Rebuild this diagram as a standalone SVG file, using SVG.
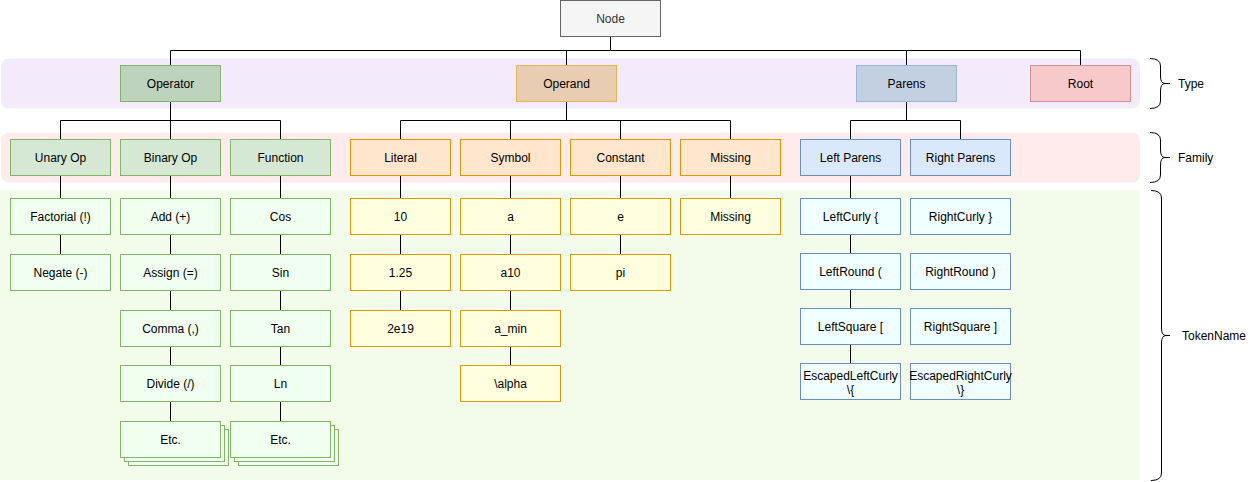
<svg xmlns="http://www.w3.org/2000/svg" width="1251" height="482" viewBox="0 0 1251 482">
<style>
text{font-family:"Liberation Sans",Arial,Helvetica,sans-serif;font-size:12px;fill:#000;text-anchor:middle}
.lbl{text-anchor:start}
.c{fill:none;stroke:#000;stroke-width:1}
.br{fill:none;stroke:#000;stroke-width:1}
.n rect{stroke-width:1}
.node rect{fill:#f5f5f5;stroke:#666}
.tOp rect{fill:#bdd3bd;stroke:#82b366}
.tOd rect{fill:#e8cdb2;stroke:#e0b555}
.tPa rect{fill:#c2d0e2;stroke:#9db4d9}
.tRo rect{fill:#f6caca;stroke:#d49090}
.fG rect{fill:#d5e8d4;stroke:#82b366}
.fO rect{fill:#ffe6cc;stroke:#d79b00}
.fB rect{fill:#dae8fc;stroke:#6c8ebf}
.kG rect{fill:#f0fff0;stroke:#82b366}
.kO rect{fill:#ffffe0;stroke:#d79b00}
.kB rect{fill:#f0ffff;stroke:#6c8ebf}
</style>
<g id="bands">
<rect x="1" y="58.5" width="1139" height="50" rx="8" fill="#f3ebfb"/>
<rect x="1" y="132.5" width="1139" height="50" rx="8" fill="#ffebeb"/>
<rect x="0" y="190" width="1140" height="290" rx="2" fill="#f3fbeb"/>
</g>
<g id="connectors">
<path class="c" d="M610.5,36.5V50.5M170.5,50.5H1080.5M170.5,50.5V65.5M566.5,50.5V65.5M906.5,50.5V65.5M1080.5,50.5V65.5"/>
<path class="c" d="M170.5,101.5V120.5M60.5,120.5H280.5M60.5,120.5V139.5M170.5,120.5V139.5M280.5,120.5V139.5"/>
<path class="c" d="M566.5,101.5V120.5M400.5,120.5H730.5M400.5,120.5V139.5M510.5,120.5V139.5M620.5,120.5V139.5M730.5,120.5V139.5"/>
<path class="c" d="M906.5,101.5V120.5M850.5,120.5H960.5M850.5,120.5V139.5M960.5,120.5V139.5"/>
<path class="c" d="M60.5,175.5V198.5M60.5,234.5V254.5"/>
<path class="c" d="M170.5,175.5V198.5M170.5,234.5V254.5M170.5,290.5V310.5M170.5,346.5V365.5M170.5,401.5V421.5"/>
<path class="c" d="M280.5,175.5V198.5M280.5,234.5V254.5M280.5,290.5V310.5M280.5,346.5V365.5M280.5,401.5V421.5"/>
<path class="c" d="M400.5,175.5V198.5M400.5,234.5V254.5M400.5,290.5V310.5"/>
<path class="c" d="M510.5,175.5V198.5M510.5,234.5V254.5M510.5,290.5V310.5M510.5,346.5V365.5"/>
<path class="c" d="M620.5,175.5V198.5M620.5,234.5V254.5"/>
<path class="c" d="M730.5,175.5V198.5"/>
<path class="c" d="M850.5,175.5V198.5M850.5,234.5V253.5M850.5,289.5V308.5M850.5,344.5V363.5"/>
</g>
<g id="node-root" class="n node"><rect x="560.5" y="0.5" width="100" height="36"/><text x="610.5" y="22.5" style="fill:#333">Node</text></g>
<g id="type-operator" class="n tOp"><rect x="120.5" y="65.5" width="100" height="36"/><text x="170.5" y="87.5">Operator</text></g>
<g id="type-operand" class="n tOd"><rect x="516.5" y="65.5" width="100" height="36"/><text x="566.5" y="87.5">Operand</text></g>
<g id="type-parens" class="n tPa"><rect x="856.5" y="65.5" width="100" height="36"/><text x="906.5" y="87.5">Parens</text></g>
<g id="type-root" class="n tRo"><rect x="1030.5" y="65.5" width="100" height="36"/><text x="1080.5" y="87.5">Root</text></g>
<g id="fam-unary" class="n fG"><rect x="10.5" y="139.5" width="100" height="36"/><text x="60.5" y="161.5">Unary Op</text></g>
<g id="fam-binary" class="n fG"><rect x="120.5" y="139.5" width="100" height="36"/><text x="170.5" y="161.5">Binary Op</text></g>
<g id="fam-function" class="n fG"><rect x="230.5" y="139.5" width="100" height="36"/><text x="280.5" y="161.5">Function</text></g>
<g id="fam-literal" class="n fO"><rect x="350.5" y="139.5" width="100" height="36"/><text x="400.5" y="161.5">Literal</text></g>
<g id="fam-symbol" class="n fO"><rect x="460.5" y="139.5" width="100" height="36"/><text x="510.5" y="161.5">Symbol</text></g>
<g id="fam-constant" class="n fO"><rect x="570.5" y="139.5" width="100" height="36"/><text x="620.5" y="161.5">Constant</text></g>
<g id="fam-missing" class="n fO"><rect x="680.5" y="139.5" width="100" height="36"/><text x="730.5" y="161.5">Missing</text></g>
<g id="fam-leftparens" class="n fB"><rect x="800.5" y="139.5" width="100" height="36"/><text x="850.5" y="161.5">Left Parens</text></g>
<g id="fam-rightparens" class="n fB"><rect x="910.5" y="139.5" width="100" height="36"/><text x="960.5" y="161.5">Right Parens</text></g>
<g id="tok-factorial" class="n kG"><rect x="10.5" y="198.5" width="100" height="36"/><text x="60.5" y="220.5">Factorial (!)</text></g>
<g id="tok-negate" class="n kG"><rect x="10.5" y="254.5" width="100" height="36"/><text x="60.5" y="276.5">Negate (-)</text></g>
<g id="tok-add" class="n kG"><rect x="120.5" y="198.5" width="100" height="36"/><text x="170.5" y="220.5">Add (+)</text></g>
<g id="tok-assign" class="n kG"><rect x="120.5" y="254.5" width="100" height="36"/><text x="170.5" y="276.5">Assign (=)</text></g>
<g id="tok-comma" class="n kG"><rect x="120.5" y="310.5" width="100" height="36"/><text x="170.5" y="332.5">Comma (,)</text></g>
<g id="tok-divide" class="n kG"><rect x="120.5" y="365.5" width="100" height="36"/><text x="170.5" y="387.5">Divide (/)</text></g>
<g id="tok-etc-binary" class="n kG"><rect x="128.5" y="429.5" width="100" height="36"/><rect x="124.5" y="425.5" width="100" height="36"/><rect x="120.5" y="421.5" width="100" height="36"/><text x="170.5" y="443.5">Etc.</text></g>
<g id="tok-cos" class="n kG"><rect x="230.5" y="198.5" width="100" height="36"/><text x="280.5" y="220.5">Cos</text></g>
<g id="tok-sin" class="n kG"><rect x="230.5" y="254.5" width="100" height="36"/><text x="280.5" y="276.5">Sin</text></g>
<g id="tok-tan" class="n kG"><rect x="230.5" y="310.5" width="100" height="36"/><text x="280.5" y="332.5">Tan</text></g>
<g id="tok-ln" class="n kG"><rect x="230.5" y="365.5" width="100" height="36"/><text x="280.5" y="387.5">Ln</text></g>
<g id="tok-etc-function" class="n kG"><rect x="238.5" y="429.5" width="100" height="36"/><rect x="234.5" y="425.5" width="100" height="36"/><rect x="230.5" y="421.5" width="100" height="36"/><text x="280.5" y="443.5">Etc.</text></g>
<g id="tok-10" class="n kO"><rect x="350.5" y="198.5" width="100" height="36"/><text x="400.5" y="220.5">10</text></g>
<g id="tok-125" class="n kO"><rect x="350.5" y="254.5" width="100" height="36"/><text x="400.5" y="276.5">1.25</text></g>
<g id="tok-2e19" class="n kO"><rect x="350.5" y="310.5" width="100" height="36"/><text x="400.5" y="332.5">2e19</text></g>
<g id="tok-a" class="n kO"><rect x="460.5" y="198.5" width="100" height="36"/><text x="510.5" y="220.5">a</text></g>
<g id="tok-a10" class="n kO"><rect x="460.5" y="254.5" width="100" height="36"/><text x="510.5" y="276.5">a10</text></g>
<g id="tok-amin" class="n kO"><rect x="460.5" y="310.5" width="100" height="36"/><text x="510.5" y="332.5">a_min</text></g>
<g id="tok-alpha" class="n kO"><rect x="460.5" y="365.5" width="100" height="36"/><text x="510.5" y="387.5">\alpha</text></g>
<g id="tok-e" class="n kO"><rect x="570.5" y="198.5" width="100" height="36"/><text x="620.5" y="220.5">e</text></g>
<g id="tok-pi" class="n kO"><rect x="570.5" y="254.5" width="100" height="36"/><text x="620.5" y="276.5">pi</text></g>
<g id="tok-missing" class="n kO"><rect x="680.5" y="198.5" width="100" height="36"/><text x="730.5" y="220.5">Missing</text></g>
<g id="tok-leftcurly" class="n kB"><rect x="800.5" y="198.5" width="100" height="36"/><text x="850.5" y="220.5">LeftCurly {</text></g>
<g id="tok-leftround" class="n kB"><rect x="800.5" y="253.5" width="100" height="36"/><text x="850.5" y="275.5">LeftRound (</text></g>
<g id="tok-leftsquare" class="n kB"><rect x="800.5" y="308.5" width="100" height="36"/><text x="850.5" y="330.5">LeftSquare [</text></g>
<g id="tok-escleftcurly" class="n kB"><rect x="800.5" y="363.5" width="100" height="36"/><text x="850.5" y="380">EscapedLeftCurly</text><text x="850.5" y="394">\{</text></g>
<g id="tok-rightcurly" class="n kB"><rect x="910.5" y="198.5" width="100" height="36"/><text x="960.5" y="220.5">RightCurly }</text></g>
<g id="tok-rightround" class="n kB"><rect x="910.5" y="253.5" width="100" height="36"/><text x="960.5" y="275.5">RightRound )</text></g>
<g id="tok-rightsquare" class="n kB"><rect x="910.5" y="308.5" width="100" height="36"/><text x="960.5" y="330.5">RightSquare ]</text></g>
<g id="tok-escrightcurly" class="n kB"><rect x="910.5" y="363.5" width="100" height="36"/><text x="960.5" y="380">EscapedRightCurly</text><text x="960.5" y="394">\}</text></g>
<g id="legend">
<path class="br" d="M1150,58.5Q1160.5,58.5 1160.5,66V76Q1160.5,83.5 1165,83.5Q1160.5,83.5 1160.5,91V101Q1160.5,108.5 1150,108.5M1165,83.5H1170"/>
<text class="lbl" x="1178" y="88">Type</text>
<path class="br" d="M1150,132.5Q1160.5,132.5 1160.5,140V150Q1160.5,157.5 1165,157.5Q1160.5,157.5 1160.5,165V175Q1160.5,182.5 1150,182.5M1165,157.5H1170"/>
<text class="lbl" x="1178" y="162">Family</text>
<path class="br" d="M1151,190.5Q1161.5,190.5 1161.5,198V328Q1161.5,335.5 1166,335.5Q1161.5,335.5 1161.5,343V473Q1161.5,480.5 1151,480.5M1166,335.5H1170"/>
<text class="lbl" x="1182" y="340">TokenName</text>
</g>
</svg>
